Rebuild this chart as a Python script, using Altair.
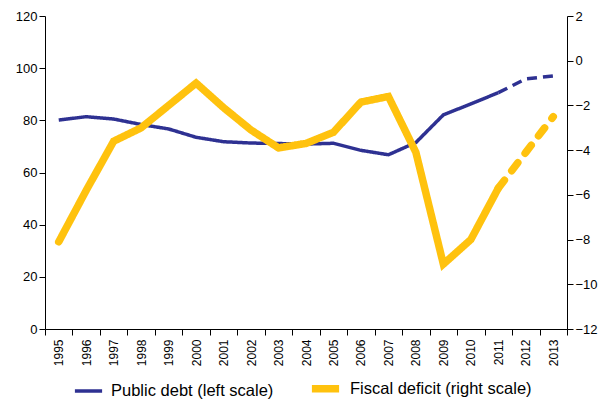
import altair as alt
import pandas as pd

years = [str(y) for y in range(1995, 2014)]
public_debt = [80.1, 81.4, 80.5, 78.4, 76.7, 73.5, 71.8, 71.3, 71.1, 70.9, 71.2, 68.5, 66.8, 71.5, 82.1, 86.3, 90.6, 95.9, 97.0]
fiscal_deficit = [-8.1, -5.8, -3.6, -3.0, -2.0, -1.0, -2.1, -3.1, -3.9, -3.7, -3.2, -1.85, -1.6, -4.1, -9.1, -8.0, -5.7, -4.1, -2.5]
last_actual = 2011

debt_name = "Public debt (left scale)"
def_name = "Fiscal deficit (right scale)"

rows_debt, rows_def = [], []
for y, d, f in zip(years, public_debt, fiscal_deficit):
    yi = int(y)
    parts = []
    if yi <= last_actual:
        parts.append("actual")
    if yi >= last_actual:
        parts.append("projection")
    for p in parts:
        rows_debt.append({"year": y, "value": d, "series": debt_name, "part": p})
        rows_def.append({"year": y, "value": f, "series": def_name, "part": p})

df_debt = pd.DataFrame(rows_debt)
df_def = pd.DataFrame(rows_def)

font = "Liberation Sans"
blue = "#2E3192"
yellow = "#FFC20E"

x_enc = alt.X(
    "year:O",
    sort=years,
    scale=alt.Scale(domain=years, paddingInner=0, paddingOuter=0),
    axis=alt.Axis(
        title=None, labelAngle=-90, tickBand="extent", labelFontSize=12,
        labelPadding=4, tickSize=6, domainColor="black", tickColor="black",
        labelColor="black", labelBaseline="middle", labelAlign="right",
    ),
)

legend_cfg = dict(
    title=None, orient="none", direction="horizontal", symbolType="stroke",
    symbolSize=740, labelFontSize=16.5, labelFont=font, columnPadding=22,
    labelColor="black", legendX=28, legendY=355, symbolOffset=0, padding=0,
    labelLimit=400, labelOffset=7,
)

color_enc = alt.Color(
    "series:N",
    scale=alt.Scale(domain=[debt_name, def_name], range=[blue, yellow]),
    legend=alt.Legend(**legend_cfg),
)
sw_enc = alt.StrokeWidth(
    "series:N",
    scale=alt.Scale(domain=[debt_name, def_name], range=[3.5, 7.5]),
    legend=alt.Legend(**legend_cfg),
)

debt = alt.Chart(df_debt).mark_line(strokeCap="butt").encode(
    x=x_enc,
    y=alt.Y(
        "value:Q",
        scale=alt.Scale(domain=[0, 120], nice=False),
        axis=alt.Axis(
            title=None, values=list(range(0, 121, 20)), labelFontSize=13,
            tickSize=6, domainColor="black", tickColor="black", labelColor="black",
            grid=False,
        ),
    ),
    color=color_enc,
    strokeWidth=sw_enc,
    strokeDash=alt.StrokeDash(
        "part:N",
        scale=alt.Scale(domain=["actual", "projection"], range=[[1, 0], [10, 6]]),
        legend=None,
    ),
)

deficit = alt.Chart(df_def).mark_line(strokeCap="round", strokeJoin="miter").encode(
    x=x_enc,
    y=alt.Y(
        "value:Q",
        scale=alt.Scale(domain=[-12, 2], nice=False),
        axis=alt.Axis(
            title=None, orient="right", values=list(range(-12, 3, 2)), labelFontSize=13,
            tickSize=6, domainColor="black", tickColor="black", labelColor="black",
            grid=False,
        ),
    ),
    color=color_enc,
    strokeWidth=sw_enc,
    strokeDash=alt.StrokeDash(
        "part:N",
        scale=alt.Scale(domain=["actual", "projection"], range=[[1, 0], [10, 12]]),
        legend=None,
    ),
)

chart = (
    alt.layer(debt, deficit)
    .resolve_scale(y="independent", strokeDash="independent")
    .properties(
        width=522, height=313,
        autosize=alt.AutoSizeParams(type="none"),
        padding={"left": 45, "top": 16, "right": 33, "bottom": 70},
        background="white",
    )
    .configure_view(stroke=None)
    .configure_axis(labelFont=font, grid=False)
)

chart.save("out.html", embed_options={"renderer": "svg", "actions": False})
